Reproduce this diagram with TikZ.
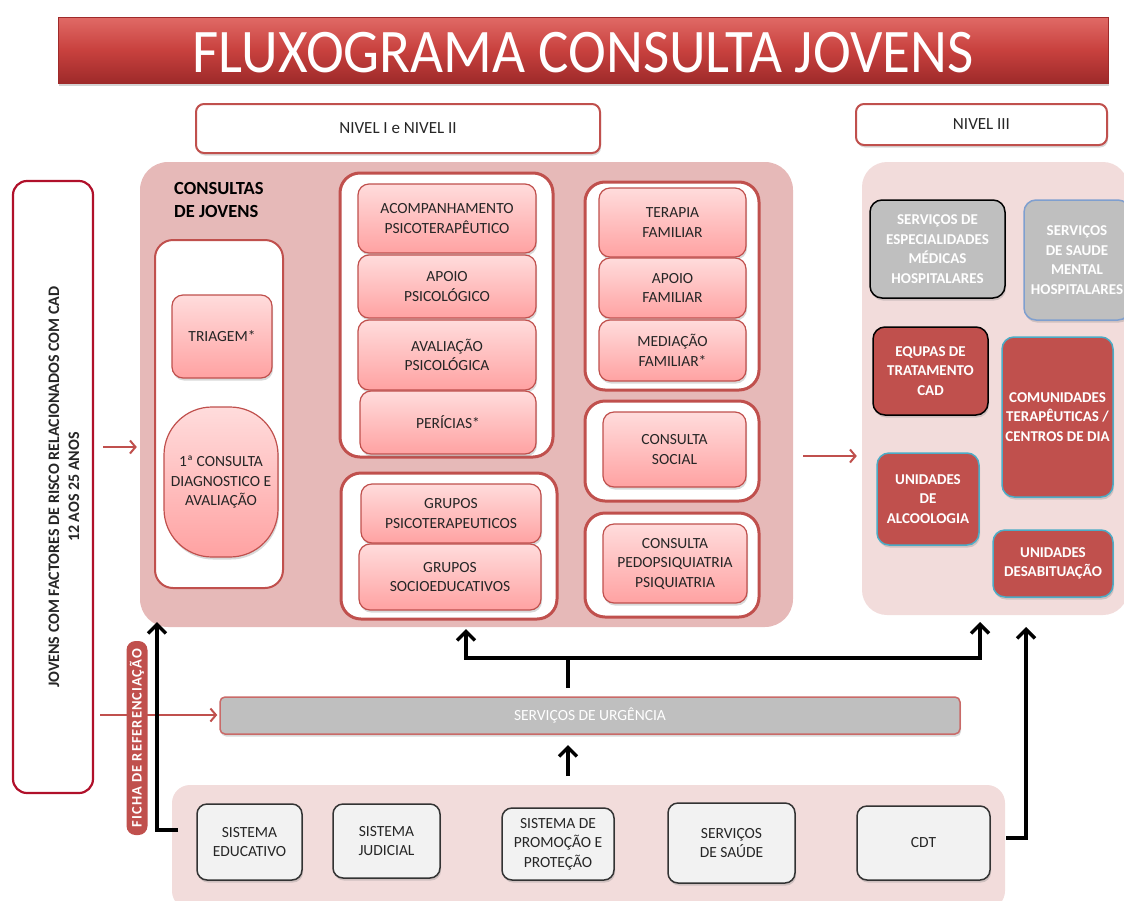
\documentclass[tikz,border=0pt]{standalone}
\usepackage{fontspec}
\setmainfont{Carlito}
\usetikzlibrary{arrows.meta,shadows,calc}
\definecolor{redacc}{HTML}{C0504D}
\definecolor{pinkpanel}{HTML}{E6B9B8}
\definecolor{lightpanel}{HTML}{F2DCDB}
\definecolor{gradtop}{HTML}{FFDCDC}
\definecolor{gradbot}{HTML}{FFA2A2}
\definecolor{graybox}{HTML}{BFBFBF}
\definecolor{txtgray}{HTML}{262626}
\definecolor{tealb}{HTML}{4BACC6}
\definecolor{blueb}{HTML}{7F9FCF}
\definecolor{crimson}{HTML}{B0102A}
\definecolor{titletop}{HTML}{E06A66}
\definecolor{titlemid}{HTML}{C8413E}
\definecolor{titlebot}{HTML}{9E2A2A}
\definecolor{lightbox}{HTML}{F2F2F2}
\begin{document}
\begin{tikzpicture}[x=1pt,y=-1pt,
  bodyfont/.style={font=\fontsize{15.5}{19.5}\selectfont, text=txtgray, align=center, inner sep=1pt},
  shad/.style={drop shadow={shadow xshift=1pt, shadow yshift=-2.5pt, opacity=0.3}},
  gbox/.style={bodyfont, draw=redacc, line width=1.2pt, rounded corners=11pt, top color=gradtop, bottom color=gradbot, shad},
  contbox/.style={draw=redacc, line width=3pt, fill=white, rounded corners=20pt},
  nivelbox/.style={draw=redacc, line width=2pt, fill=white, rounded corners=8pt, font=\fontsize{17}{20}\selectfont, text=txtgray, shad},
  redbox/.style={fill=redacc, text=white, font=\fontsize{15}{19.5}\selectfont\bfseries, align=center, rounded corners=12pt, line width=1.5pt, inner sep=1pt, shad},
  graysbox/.style={fill=graybox, text=white, font=\fontsize{15}{19.5}\selectfont\bfseries, align=center, rounded corners=12pt, line width=1.5pt, inner sep=1pt, shad},
  lowbox/.style={bodyfont, fill=lightbox, draw=black!80, line width=1.5pt, rounded corners=10pt, shad},
  redarr/.style={draw=redacc, line width=2pt, -{Straight Barb[length=5.5pt,width=13pt]}},
  blkarr/.style={draw=black, line width=3.5pt, -{Straight Barb[length=9pt,width=18pt]}},
  blkline/.style={draw=black, line width=3.5pt}
]
\useasboundingbox (0,0) rectangle (1124,900);

% title
\node[minimum width=1050pt, minimum height=66pt, inner sep=0pt, draw=titlebot, line width=0.8pt,
      top color=titletop, bottom color=titlebot, middle color=titlemid, text=white,
      text height=44pt, text depth=0pt,
      font=\fontsize{62}{64}\selectfont, drop shadow={shadow xshift=1pt, shadow yshift=-3pt, opacity=0.35}]
      (title) at (583,50) {\scalebox{0.92}[1]{FLUXOGRAMA CONSULTA JOVENS}};

% level headers
\node[nivelbox, minimum width=404pt, minimum height=49pt] (niv12) at (398,128.5) {NIVEL I e NIVEL II};
\node[nivelbox, minimum width=251pt, minimum height=41pt] (niv3) at (981.5,124.5) {NIVEL III};

% left box
\node[draw=crimson, line width=2.2pt, fill=white, rounded corners=14pt, minimum width=80pt, minimum height=612pt] (jov) at (53,487) {};
\node[rotate=90, font=\fontsize{16}{20}\selectfont\bfseries, text=txtgray, align=center, inner sep=0pt] (jovtxt) at (64,487)
  {JOVENS COM FACTORES DE RISCO RELACIONADOS COM CAD\\12 AOS 25 ANOS};

% main panel
\node[fill=pinkpanel, rounded corners=28pt, minimum width=653pt, minimum height=465pt] (main) at (466.5,394.5) {};
\node[anchor=north west, font=\fontsize{18.5}{23}\selectfont\bfseries, align=left, inner sep=0pt] (cjlab) at (174,182) {CONSULTAS\\DE JOVENS};

% column 1
\node[draw=redacc, line width=2pt, fill=white, rounded corners=18pt, minimum width=128pt, minimum height=348pt] (c1) at (219,414) {};
\node[gbox, minimum width=100pt, minimum height=83pt] (tri) at (222,336.5) {TRIAGEM*};
\node[gbox, rounded corners=48pt, minimum width=114pt, minimum height=150pt] (cons1) at (221,482) {1ª CONSULTA\\DIAGNOSTICO E\\AVALIAÇÃO};

% column 2
\node[contbox, minimum width=213pt, minimum height=284pt] (c2a) at (446.5,315) {};
\node[gbox, minimum width=178pt, minimum height=69pt] (acomp) at (447,218.5) {ACOMPANHAMENTO\\PSICOTERAPÊUTICO};
\node[gbox, minimum width=178pt, minimum height=63pt] (apsic) at (447,286.5) {APOIO\\PSICOLÓGICO};
\node[gbox, minimum width=178pt, minimum height=70pt] (avps) at (447,355) {AVALIAÇÃO\\PSICOLÓGICA};
\node[gbox, minimum width=176pt, minimum height=63pt] (peri) at (448,422.5) {PERÍCIAS*};

\node[contbox, minimum width=216pt, minimum height=146pt] (c2b) at (449,546) {};
\node[gbox, minimum width=180pt, minimum height=59pt] (gpsi) at (451,513.5) {GRUPOS\\PSICOTERAPEUTICOS};
\node[gbox, minimum width=182pt, minimum height=66pt] (gsoc) at (450,577) {GRUPOS\\SOCIOEDUCATIVOS};

% column 3
\node[contbox, minimum width=174pt, minimum height=208pt] (c3a) at (672,286) {};
\node[gbox, minimum width=147pt, minimum height=69pt] (terf) at (672.5,222.5) {TERAPIA\\FAMILIAR};
\node[gbox, minimum width=147pt, minimum height=60pt] (apf) at (672.5,288) {APOIO\\FAMILIAR};
\node[gbox, minimum width=147pt, minimum height=61pt] (medf) at (672.5,350.5) {MEDIAÇÃO\\FAMILIAR*};

\node[contbox, minimum width=174pt, minimum height=100pt] (c3b) at (672,451) {};
\node[gbox, minimum width=143pt, minimum height=75pt] (csoc) at (674.5,449.5) {CONSULTA\\SOCIAL};

\node[contbox, minimum width=174pt, minimum height=104pt] (c3c) at (672,565) {};
\node[gbox, minimum width=144pt, minimum height=79pt] (cped) at (675,563.5) {CONSULTA\\PEDOPSIQUIATRIA\\PSIQUIATRIA};

% right panel
\node[fill=lightpanel, rounded corners=25pt, minimum width=266pt, minimum height=453pt] (rpan) at (995,388.5) {};
\node[graysbox, draw=black, minimum width=135pt, minimum height=98pt] (sesp) at (937.5,249) {SERVIÇOS DE\\ESPECIALIDADES\\MÉDICAS\\HOSPITALARES};
\node[graysbox, draw=blueb, minimum width=106pt, minimum height=120pt] (ssm) at (1077,260) {SERVIÇOS\\DE SAUDE\\MENTAL\\HOSPITALARES};
\node[redbox, draw=black, minimum width=115pt, minimum height=88pt] (equ) at (930.5,371) {EQUPAS DE\\TRATAMENTO\\CAD};
\node[redbox, draw=tealb, minimum width=111pt, minimum height=160pt] (comu) at (1057.5,417) {COMUNIDADES\\TERAPÊUTICAS /\\CENTROS DE DIA};
\node[redbox, draw=tealb, minimum width=102pt, minimum height=92pt] (alc) at (928,499) {UNIDADES\\DE\\ALCOOLOGIA};
\node[redbox, draw=tealb, minimum width=120pt, minimum height=67pt] (desab) at (1053,563.5) {UNIDADES\\DESABITUAÇÃO};

% urgency bar
\node[fill=graybox, draw=redacc!85, line width=1.5pt, rounded corners=5pt, text=white,
      font=\fontsize{15.5}{18}\selectfont, minimum width=740pt, minimum height=37pt, shad] (urg) at (590,715.5) {SERVIÇOS DE URGÊNCIA};

% bottom panel
\node[fill=lightpanel, rounded corners=18pt, minimum width=833pt, minimum height=124pt] (bpan) at (588.5,847) {};
\node[lowbox, minimum width=105pt, minimum height=76pt] (edu) at (249.5,842) {SISTEMA\\EDUCATIVO};
\node[lowbox, minimum width=107pt, minimum height=74pt] (jud) at (386.5,841) {SISTEMA\\JUDICIAL};
\node[lowbox, minimum width=112pt, minimum height=72pt] (prom) at (558,844) {SISTEMA DE\\PROMOÇÃO E\\PROTEÇÃO};
\node[lowbox, minimum width=127pt, minimum height=80pt] (sau) at (731.5,843) {SERVIÇOS\\DE SAÚDE};
\node[lowbox, minimum width=133pt, minimum height=74pt] (cdt) at (923.5,843) {CDT};

% red arrows
\coordinate (r1s) at (103,447);
\draw[redarr, shorten >=3pt] (r1s) -- (r1s -| main.west);
\coordinate (r2s) at (803,456);
\draw[redarr, shorten >=5pt] (r2s) -- (r2s -| rpan.west);
\coordinate (r3s) at (100,715);
\draw[redarr, shorten >=2pt] (r3s) -- (r3s -| urg.west);

% ficha label (on top of the red arrow)
\node[rotate=90, fill=redacc, rounded corners=9pt, text=white, inner sep=2pt, minimum width=194pt, minimum height=21pt,
      font=\fontsize{14.5}{16}\selectfont\bfseries\addfontfeatures{LetterSpace=7}] (ficha) at (137,738) {FICHA DE REFERENCIAÇÃO};

% black arrows
\coordinate (b1s) at (178,830);
\coordinate (b1c) at (157,830);
\coordinate (b1t) at (157,622);
\draw[blkarr] (b1s) -- (b1c) -- (b1t);

\coordinate (u1) at (568,688);
\coordinate (u2) at (568,658);
\coordinate (ul) at (466,658);
\coordinate (ur) at (980,658);
\coordinate (ult) at (466,629);
\coordinate (urt) at (980,622);
\draw[blkline] (u1) -- (u2);
\draw[blkarr] (u2) -- (ul) -- (ult);
\draw[blkarr] (u2) -- (ur) -- (urt);

\coordinate (bu1) at (568,776);
\coordinate (bu2) at (568,745);
\draw[blkarr] (bu1) -- (bu2);

\coordinate (cd1) at (1006,838);
\coordinate (cd2) at (1026,838);
\coordinate (cd3) at (1026,627);
\draw[blkarr] (cd1) -- (cd2) -- (cd3);
\end{tikzpicture}
\end{document}
